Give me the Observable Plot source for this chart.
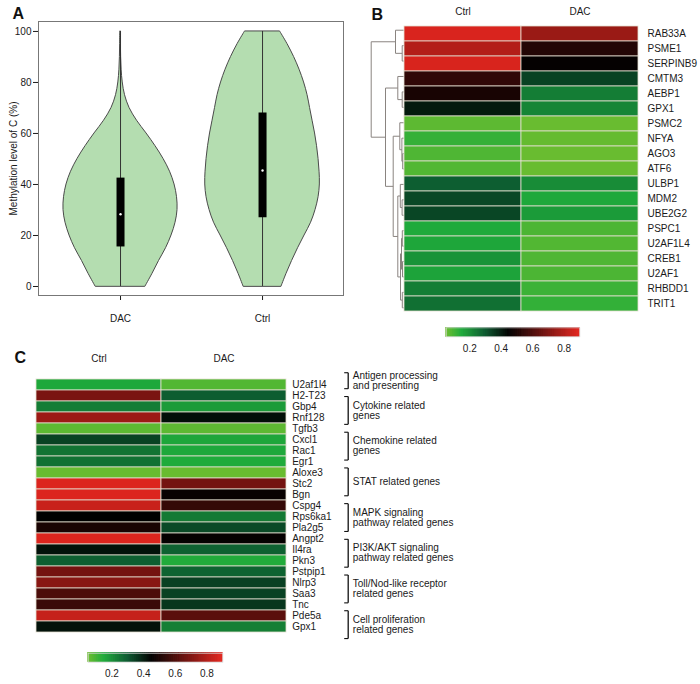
<!DOCTYPE html>
<html><head><meta charset="utf-8">
<script src="https://cdn.jsdelivr.net/npm/d3@7"></script>
<script src="https://cdn.jsdelivr.net/npm/@observablehq/plot@0.6"></script>
<style>
html,body{margin:0;padding:0;background:#fff;}
#root{position:relative;width:700px;height:684px;overflow:hidden;font-family:"Liberation Sans",Arial,Helvetica,sans-serif;}
</style></head>
<body><div id="root"></div>
<script>
// ---------------- DATA ----------------
// Panel A: violin plots
const violinGroups = ["DAC", "Ctrl"];
const violinLevels = [0,5,10,15,20,25,30,35,40,45,50,55,60,65,70,75,80,85,90,95,100];
const dacDensity  = [25,32,38.5,45.5,51,55,57,56.5,54,49.5,43,35,26,16.5,9,4.5,2.2,1.1,0.6,0.4,0.3];
const ctrlDensity = [19,24,29.5,35.5,42,48.5,53,56,57.3,57,56,54.5,52.5,50,47.5,45,41.5,37,31.5,25,17.5];
const boxMin = [0, 0];
const boxQ1 = [15.5, 27];
const boxMedian = [28.3, 45.5];
const boxQ3 = [42.5, 68];
const boxMax = [100, 100];
const yTicksA = [0, 20, 40, 60, 80, 100];

// Panel B: heatmap with dendrogram
const heatCols = ["Ctrl", "DAC"];
const bGenes = ["RAB33A","PSME1","SERPINB9","CMTM3","AEBP1","GPX1","PSMC2","NFYA","AGO3","ATF6","ULBP1","MDM2","UBE2G2","PSPC1","U2AF1L4","CREB1","U2AF1","RHBDD1","TRIT1"];
const bCtrl = [0.88,0.805,0.878,0.545,0.498,0.408,0.071,0.122,0.089,0.085,0.292,0.33,0.334,0.152,0.159,0.195,0.164,0.234,0.26];
const bDAC  = [0.755,0.52,0.46,0.34,0.236,0.22,0.055,0.06,0.055,0.057,0.208,0.155,0.18,0.092,0.085,0.089,0.092,0.113,0.124];
// merges: [left, right, height]; numbers refer to earlier merges
const bMerges = [
  ["PSME1","SERPINB9",1.3],   // 0
  ["RAB33A",0,8],             // 1
  ["AEBP1","GPX1",1.3],       // 2
  ["CMTM3",2,5.7],            // 3
  ["AGO3","ATF6",0.8],        // 4
  ["NFYA",4,1.6],             // 5
  ["PSMC2",5,3.7],            // 6
  ["MDM2","UBE2G2",1.4],      // 7
  ["ULBP1",7,3.2],            // 8
  ["PSPC1","U2AF1L4",1.2],    // 9
  ["CREB1","U2AF1",1.0],      // 10
  [9,10,2.0],                 // 11
  ["RHBDD1","TRIT1",1.2],     // 12
  [11,12,3.0],                // 13
  [8,13,5.7],                 // 14
  [6,14,10.3],                // 15
  [3,15,18],                  // 16
  [1,16,32.3]                 // 17
];

// Panel C: annotated heatmap
const cGenes = ["U2af1l4","H2-T23","Gbp4","Rnf128","Tgfb3","Cxcl1","Rac1","Egr1","Aloxe3","Stc2","Bgn","Cspg4","Rps6ka1","Pla2g5","Angpt2","Il4ra","Pkn3","Pstpip1","Nlrp3","Saa3","Tnc","Pde5a","Gpx1"];
const cCtrl = [0.155,0.692,0.236,0.76,0.071,0.34,0.254,0.257,0.056,0.886,0.886,0.846,0.45,0.5,0.886,0.42,0.29,0.68,0.72,0.6,0.565,0.84,0.42];
const cDAC  = [0.085,0.295,0.18,0.425,0.071,0.16,0.155,0.15,0.056,0.68,0.465,0.553,0.24,0.327,0.46,0.287,0.148,0.283,0.343,0.34,0.36,0.628,0.232];
const cGroupNames = ["Antigen processing\nand presenting","Cytokine related\ngenes","Chemokine related\ngenes","STAT related genes","MAPK signaling\npathway related genes","PI3K/AKT signaling\npathway related genes","Toll/Nod-like receptor\nrelated genes","Cell proliferation\nrelated genes"];
const cGroupStart = [0,2,5,8,11,14,17,20];
const cGroupEnd   = [1,4,7,10,13,16,19,22];

// colour key
const colorStops = [0.05, 0.15, 0.3, 0.45, 0.9];
const colorRange = ["#6dbd2f", "#1fab3b", "#0c5a30", "#000000", "#e3261f"];
const colorTicks = [0.2, 0.4, 0.6, 0.8];

// ---------------- HELPERS ----------------
const FONT = '"Liberation Sans", Arial, Helvetica, sans-serif';
const root = document.getElementById("root");
const baseStyle = {background: "transparent", fontFamily: FONT, fontSize: "10px", color: "#1a1a1a", overflow: "visible"};
const colorOpts = {type: "linear", domain: colorStops, range: colorRange, clamp: true};
function place(node, left, top) {
  const d = document.createElement("div");
  d.style.cssText = `position:absolute;left:${left}px;top:${top}px;`;
  node.style.maxWidth = "none";
  d.appendChild(node);
  root.appendChild(d);
}

// ---------------- PANEL A ----------------
const pxPerUnit = 142; // horizontal px per group unit
const violinRows = [];
[dacDensity, ctrlDensity].forEach((dens, gi) => {
  violinLevels.forEach((lv, i) => violinRows.push({group: violinGroups[gi], pos: gi + 1, level: lv, hw: dens[i] / pxPerUnit}));
});
const boxRows = violinGroups.map((g, i) => ({group: g, pos: i + 1, min: boxMin[i], q1: boxQ1[i], median: boxMedian[i], q3: boxQ3[i], max: boxMax[i]}));

place(Plot.plot({
  width: 350, height: 330,
  marginLeft: 38, marginRight: 7, marginTop: 21, marginBottom: 35,
  style: baseStyle,
  x: {domain: [0.4225, 2.57], ticks: [1, 2], tickFormat: d => violinGroups[d - 1], tickSize: 5, tickPadding: 14, label: null},
  y: {domain: [-3.53, 103.9], ticks: yTicksA, tickSize: 5, tickPadding: 2, label: "Methylation level of C (%)", labelAnchor: "center", labelOffset: 29, labelArrow: "none"},
  marks: [
    Plot.areaX(violinRows, {y: "level", x1: d => d.pos - d.hw, x2: d => d.pos + d.hw, z: "group", fill: "#b4ddb0", stroke: "#4a4a4a", strokeWidth: 1, curve: "catmull-rom"}),
    Plot.ruleX(boxRows, {x: "pos", y1: "min", y2: "max", stroke: "#333", strokeWidth: 1}),
    Plot.ruleX(boxRows, {x: "pos", y1: "q1", y2: "q3", stroke: "#000", strokeWidth: 8}),
    Plot.dot(boxRows, {x: "pos", y: "median", r: 1.2, fill: "#fff", stroke: null}),
    Plot.frame({stroke: "#777", strokeWidth: 1})
  ]
}), 0, 0);

// ---------------- PANEL B ----------------
const bCells = [];
bGenes.forEach((g, i) => { bCells.push({gene: g, col: heatCols[0], value: bCtrl[i]}); bCells.push({gene: g, col: heatCols[1], value: bDAC[i]}); });

place(Plot.plot({
  width: 360, height: 320,
  marginLeft: 63, marginRight: 62, marginTop: 22, marginBottom: 5,
  style: baseStyle,
  x: {domain: heatCols, axis: "top", tickSize: 0, tickPadding: 8, label: null, padding: 0},
  y: {domain: bGenes, axis: "right", tickSize: 0, tickPadding: 9, label: null, padding: 0},
  color: colorOpts,
  marks: [Plot.cell(bCells, {x: "col", y: "gene", fill: "value", stroke: "#e4dfcf", strokeWidth: 0.8})]
}), 340, 0);

// dendrogram segments derived from merge list
function dendroSegments(merges, leaves) {
  const leafPos = new Map(leaves.map((g, i) => [g, i + 0.5]));
  const nodes = [];
  const get = c => typeof c === "number" ? nodes[c] : {y: leafPos.get(c), h: 0};
  const segs = [];
  for (const [a, b, h] of merges) {
    const A = get(a), B = get(b);
    segs.push({x1: h, y1: A.y, x2: h, y2: B.y});
    segs.push({x1: A.h, y1: A.y, x2: h, y2: A.y});
    segs.push({x1: B.h, y1: B.y, x2: h, y2: B.y});
    nodes.push({y: (A.y + B.y) / 2, h});
  }
  return segs;
}
place(Plot.plot({
  width: 63, height: 320,
  marginLeft: 0, marginRight: 0, marginTop: 22, marginBottom: 5,
  style: baseStyle,
  x: {domain: [0, 63], reverse: true, axis: null},
  y: {domain: [0, bGenes.length], reverse: true, axis: null},
  marks: [Plot.link(dendroSegments(bMerges, bGenes), {x1: "x1", y1: "y1", x2: "x2", y2: "y2", stroke: "#8a8480", strokeWidth: 1})]
}), 340, 0);

// colour keys
const rampStep = 0.0025;
const ramp = d3.range(colorStops[0], colorStops[colorStops.length - 1], rampStep);
function colorKey(mL, mR, mT, mB, w, h, pad) {
  return Plot.plot({
    width: w, height: h, marginLeft: mL, marginRight: mR, marginTop: mT, marginBottom: mB,
    style: baseStyle,
    x: {domain: [colorStops[0], colorStops[colorStops.length - 1]], ticks: colorTicks, tickFormat: d3.format(".1f"), tickSize: 0, tickPadding: pad, label: null},
    y: {domain: [0, 1], axis: null},
    color: colorOpts,
    marks: [
      Plot.rect(ramp, {x1: d => d, x2: d => Math.min(d + rampStep, colorStops[colorStops.length - 1]), y1: 0, y2: 1, fill: d => d, stroke: d => d, strokeWidth: 0.5}),
      Plot.frame({stroke: "#d8d8d8", strokeWidth: 0.8})
    ]
  });
}
place(colorKey(5.7, 10.7, 7.3, 23.7, 150, 40, 8.4), 440, 320);

// ---------------- PANEL C ----------------
const cCells = [];
cGenes.forEach((g, i) => { cCells.push({gene: g, col: heatCols[0], value: cCtrl[i]}); cCells.push({gene: g, col: heatCols[1], value: cDAC[i]}); });

place(Plot.plot({
  width: 360, height: 330,
  marginLeft: 36, marginRight: 73.3, marginTop: 53.3, marginBottom: 3,
  style: baseStyle,
  x: {domain: heatCols, axis: "top", tickSize: 0, tickPadding: 7, label: null, padding: 0},
  y: {domain: cGenes, axis: "right", tickSize: 0, tickPadding: 5, label: null, padding: 0},
  color: colorOpts,
  marks: [Plot.cell(cCells, {x: "col", y: "gene", fill: "value", stroke: "#e4dfcf", strokeWidth: 0.8})]
}), 0, 315);

// brackets + group labels
const groups = cGroupNames.map((n, i) => ({name: n, start: cGroupStart[i], end: cGroupEnd[i] + 1}));
const bracketInset = 0.33, bracketX = 60.7, bracketTick = 4, labelGap = 4.6;
place(Plot.plot({
  width: 413, height: 330,
  marginLeft: 0, marginRight: 0, marginTop: 53.3, marginBottom: 3,
  style: baseStyle,
  x: {domain: [0, 413], axis: null},
  y: {domain: [0, cGenes.length], reverse: true, axis: null},
  marks: [
    Plot.link(groups, {x1: bracketX, x2: bracketX, y1: d => d.start + bracketInset, y2: d => d.end - bracketInset, stroke: "#111", strokeWidth: 1.3}),
    Plot.link(groups, {x1: bracketX - bracketTick, x2: bracketX, y1: d => d.start + bracketInset, y2: d => d.start + bracketInset, stroke: "#111", strokeWidth: 1.1}),
    Plot.link(groups, {x1: bracketX - bracketTick, x2: bracketX, y1: d => d.end - bracketInset, y2: d => d.end - bracketInset, stroke: "#111", strokeWidth: 1.1}),
    Plot.text(groups, {x: bracketX + labelGap, y: d => (d.start + d.end) / 2, text: "name", textAnchor: "start", lineHeight: 1.0, fontSize: 10, fill: "#1a1a1a"})
  ]
}), 287, 315);

place(colorKey(7.7, 7.7, 7.7, 22.3, 150, 39, 7.4), 80, 645);

// ---------------- PANEL LETTERS ----------------
const letters = document.createElementNS("http://www.w3.org/2000/svg", "svg");
letters.setAttribute("width", 700); letters.setAttribute("height", 684);
letters.style.cssText = "position:absolute;left:0;top:0;pointer-events:none;";
[["A", 12.5, 18.5], ["B", 371.5, 19.5], ["C", 14.5, 362.7]].forEach(([t, x, y]) => {
  const el = document.createElementNS("http://www.w3.org/2000/svg", "text");
  el.setAttribute("x", x); el.setAttribute("y", y);
  el.setAttribute("font-family", FONT); el.setAttribute("font-size", "16"); el.setAttribute("font-weight", "bold");
  el.setAttribute("fill", "#111");
  el.textContent = t;
  letters.appendChild(el);
});
root.appendChild(letters);
</script>
</body></html>
